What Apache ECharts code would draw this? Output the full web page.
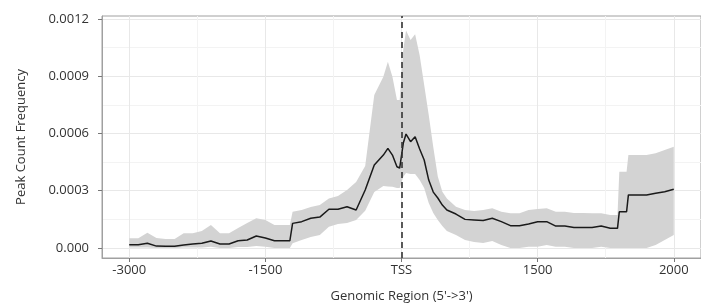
<!DOCTYPE html>
<html>
<head>
<meta charset="utf-8">
<script src="https://cdn.jsdelivr.net/npm/echarts@6/dist/echarts.min.js"></script>
<style>
html, body { margin: 0; padding: 0; background: #fff; }
#profile { width: 701px; height: 308px; }
</style>
</head>
<body>
<div id="profile"></div>
<script>
// positions relative to TSS (bp)
const positions = [-3000, -2900, -2800, -2700, -2600, -2500, -2400, -2300, -2200, -2100, -2000, -1900, -1800,
  -1700, -1600, -1500, -1400, -1300, -1230, -1200, -1100, -1000, -900, -800, -700, -600, -500, -400, -300, -200,
  -150, -100, -50, -20, 20, 50, 100, 150, 200, 250, 300, 350, 400, 450, 500, 600, 700, 800, 900, 1000,
  1100, 1200, 1300, 1400, 1500, 1600, 1700, 1800, 1900, 2000, 2100, 2200, 2300, 2380, 2400, 2480, 2500, 2600, 2700,
  2800, 2900, 3000]
// values in units of 1e-4
const meanFreq = [0.17, 0.17, 0.25, 0.10, 0.09, 0.09, 0.16, 0.21, 0.25, 0.37, 0.21, 0.21, 0.38,
  0.42, 0.63, 0.52, 0.38, 0.38, 0.38, 1.29, 1.38, 1.56, 1.62, 2.03, 2.03, 2.16, 1.99, 3.04, 4.35, 4.87,
  5.22, 4.87, 4.26, 4.19, 5.50, 5.97, 5.57, 5.83, 5.19, 4.61, 3.56, 2.93, 2.62, 2.25, 1.99, 1.78, 1.50, 1.47, 1.44, 1.56,
  1.38, 1.17, 1.17, 1.26, 1.38, 1.38, 1.15, 1.15, 1.08, 1.08, 1.08, 1.15, 1.03, 1.03, 1.90, 1.90, 2.78, 2.78, 2.78,
  2.87, 2.95, 3.08]
const upperCI = [0.51, 0.51, 0.80, 0.52, 0.47, 0.47, 0.77, 0.77, 0.89, 1.21, 0.77, 0.77, 1.05,
  1.31, 1.56, 1.47, 1.21, 1.21, 1.21, 1.90, 1.99, 2.15, 2.25, 2.60, 2.72, 3.04, 3.46, 4.30, 8.02, 8.98,
  9.76, 8.98, 7.76, 7.76, 10.4, 11.4, 10.9, 11.2, 10.1, 8.54, 6.97, 5.29, 3.75, 2.95, 2.60, 2.16, 1.99, 1.94, 1.99, 2.08,
  1.90, 1.82, 1.82, 1.99, 2.04, 2.08, 1.90, 1.90, 1.83, 1.83, 1.82, 1.82, 1.73, 1.73, 4.00, 4.00, 4.87, 4.87, 4.87,
  4.96, 5.14, 5.31]
const lowerCI = [0.03, 0.03, 0.03, 0.00, 0.00, 0.00, 0.02, 0.02, 0.03, 0.06, 0.00, 0.00, 0.05,
  0.05, 0.10, 0.07, 0.00, 0.00, 0.00, 0.25, 0.42, 0.58, 0.68, 1.12, 1.26, 1.31, 1.47, 1.95, 2.93, 3.25,
  3.22, 3.21, 3.14, 3.14, 3.74, 3.93, 3.88, 3.88, 3.56, 3.14, 2.36, 1.83, 1.47, 1.15, 0.89, 0.68, 0.42, 0.31, 0.26, 0.37,
  0.16, 0.00, 0.00, 0.07, 0.07, 0.16, 0.07, 0.07, 0.00, 0.00, 0.00, 0.07, 0.00, 0.00, 0.00, 0.00, 0.00, 0.00, 0.00,
  0.16, 0.42, 0.68]

const xTickValues = [-3000, -1500, 0, 1500, 3000]
const xTickLabels = ['-3000', '-1500', 'TSS', '1500', '2000']
const xMinorValues = [-2250, -750, 750, 2250]
const yTickValues = [0, 0.0003, 0.0006, 0.0009, 0.0012]
const yMinorValues = [0.00015, 0.00045, 0.00075, 0.00105]

const unit = 1e-4
const font = 'Open Sans'
const chart = echarts.init(document.getElementById('profile'))

const bandData = positions.map((x, i) => [x, lowerCI[i] * unit, upperCI[i] * unit])
const meanData = positions.map((x, i) => [x, meanFreq[i] * unit])

// whole confidence ribbon drawn once as one polygon
function renderBand(params, api) {
  if (params.dataIndex !== 0) return null
  const top = bandData.map(d => api.coord([d[0], d[2]]))
  const bottom = bandData.map(d => api.coord([d[0], d[1]])).reverse()
  return {
    type: 'polygon',
    shape: { points: top.concat(bottom) },
    style: { fill: '#d3d3d3' }
  }
}

chart.setOption({
  animation: false,
  backgroundColor: '#fff',
  textStyle: { fontFamily: font },
  grid: {
    left: 102, top: 16, width: 603, height: 242,
    show: true, borderColor: '#a0a0a0', borderWidth: 1
  },
  xAxis: [
    {
      type: 'value', min: -3300, max: 3300,
      name: "Genomic Region (5'->3')", nameLocation: 'middle', nameGap: 32,
      nameTextStyle: { fontSize: 13, color: '#333', fontFamily: font },
      axisLine: { show: true, onZero: false, lineStyle: { color: '#a0a0a0' } },
      axisTick: { show: true, customValues: xTickValues, length: 4, lineStyle: { color: '#777' } },
      axisLabel: {
        customValues: xTickValues, color: '#333', fontSize: 13, margin: 6, fontFamily: font,
        formatter: v => xTickLabels[xTickValues.indexOf(v)]
      },
      splitLine: { show: true, lineStyle: { color: '#e8e8e8' } }
    },
    {
      // minor vertical grid
      type: 'value', min: -3300, max: 3300, position: 'top',
      axisLine: { show: false },
      axisTick: { show: false, customValues: xMinorValues },
      axisLabel: { show: false, customValues: xMinorValues },
      splitLine: { show: true, lineStyle: { color: '#f3f3f3' } }
    }
  ],
  yAxis: [
    {
      type: 'value', min: -0.0000524, max: 0.0012157,
      name: 'Peak Count Frequency', nameLocation: 'middle', nameGap: 74,
      nameTextStyle: { fontSize: 13, color: '#333', fontFamily: font },
      axisLine: { show: true, onZero: false, lineStyle: { color: '#a0a0a0' } },
      axisTick: { show: true, customValues: yTickValues, length: 4, lineStyle: { color: '#777' } },
      axisLabel: {
        customValues: yTickValues, color: '#333', fontSize: 13, margin: 13, fontFamily: font,
        formatter: v => (v === 0 ? '0.000' : v.toFixed(4))
      },
      splitLine: { show: true, lineStyle: { color: '#e8e8e8' } }
    },
    {
      // minor horizontal grid
      type: 'value', min: -0.0000524, max: 0.0012157, position: 'right',
      axisLine: { show: false },
      axisTick: { show: false, customValues: yMinorValues },
      axisLabel: { show: false, customValues: yMinorValues },
      splitLine: { show: true, lineStyle: { color: '#f3f3f3' } }
    }
  ],
  series: [
    {
      name: 'ci',
      type: 'custom',
      silent: true,
      renderItem: renderBand,
      encode: { x: 0, y: [1, 2] },
      data: bandData
    },
    {
      name: 'mean',
      type: 'line',
      symbol: 'none',
      lineStyle: { color: '#1a1a1a', width: 1.5 },
      data: meanData,
      markLine: {
        silent: true,
        symbol: 'none',
        label: { show: false },
        lineStyle: { color: '#333', width: 1.6, type: [6, 4] },
        data: [{ xAxis: 0 }]
      }
    }
  ]
})
</script>
</body>
</html>
